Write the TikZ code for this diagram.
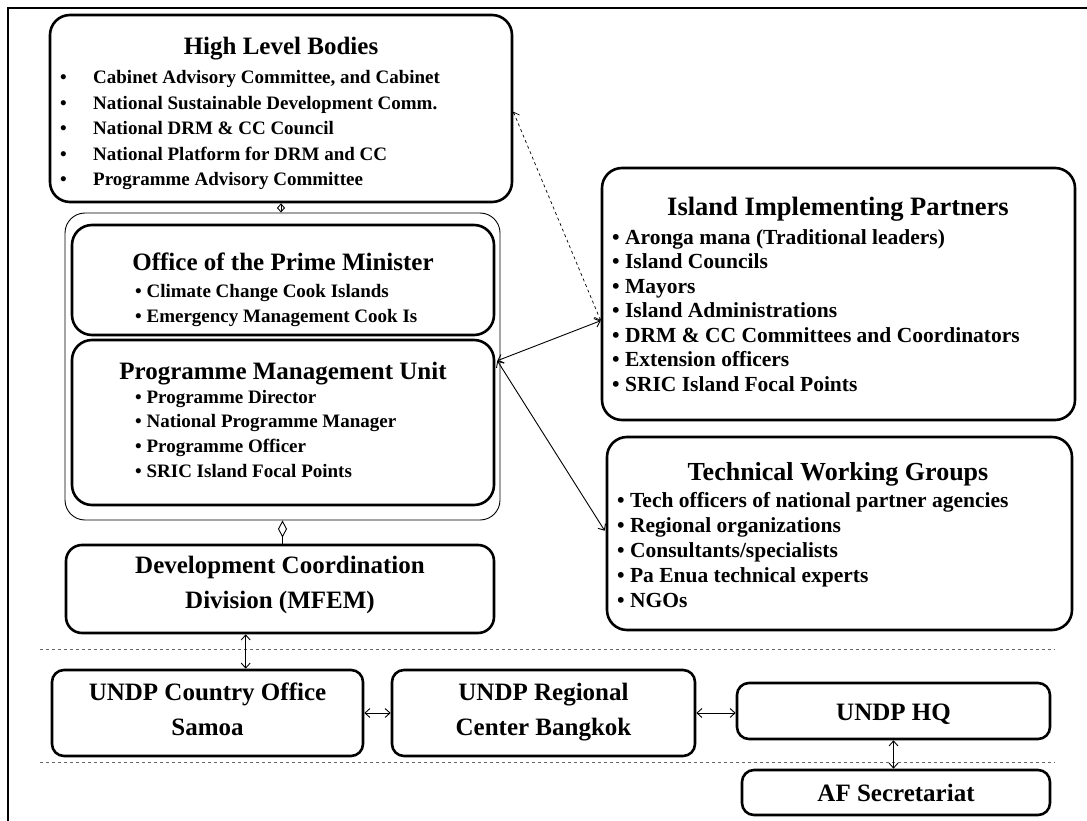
\documentclass[tikz,border=0pt]{standalone}
\usepackage{fontspec}
\setmainfont{Liberation Serif}
\usetikzlibrary{arrows.meta,calc}
\begin{document}
\begin{tikzpicture}[x=1pt,y=-1pt,
 box/.style={draw, line width=2.6pt, rounded corners=20pt, inner sep=0pt},
 sbox/.style={draw, line width=2.6pt, rounded corners=12pt, inner sep=0pt},
 thinbox/.style={draw, line width=0.9pt, rounded corners=20pt, inner sep=0pt},
 ttl/.style={font=\bfseries\fontsize{25}{30}\selectfont, inner sep=0pt, anchor=base},
 itm/.style={font=\bfseries\fontsize{19}{24}\selectfont, inner sep=0pt, anchor=base west},
 ritm/.style={font=\bfseries\fontsize{21.5}{24}\selectfont, inner sep=0pt, anchor=base west},
 dbl/.style={line width=0.9pt, {Straight Barb[length=5pt,width=9pt]}-{Straight Barb[length=5pt,width=9pt]}},
 sep/.style={draw=black!60, dashed, line width=0.7pt},
]
\useasboundingbox (0,0) rectangle (1087,821);
\draw[line width=1.4pt] (8,840) -- (8,8) -- (1100,8);

% boxes
\node[box, minimum width=462pt, minimum height=187pt] (hlb) at (281,108.5) {};
\node[thinbox, minimum width=435pt, minimum height=307pt] (cont) at (282.5,366.5) {};
\node[box, minimum width=422pt, minimum height=110pt] (opm) at (283,280) {};
\node[box, minimum width=422pt, minimum height=165pt] (pmu) at (283,422.5) {};
\node[box, rounded corners=16pt, minimum width=428pt, minimum height=88pt] (dcd) at (280,589) {};
\node[box, minimum width=473pt, minimum height=252pt] (iip) at (838.5,294) {};
\node[box, minimum width=465pt, minimum height=193pt] (twg) at (839.5,533.5) {};
\node[sbox, minimum width=311pt, minimum height=86pt] (samoa) at (207.5,713) {};
\node[sbox, minimum width=303pt, minimum height=86pt] (bkk) at (543.5,713) {};
\node[sbox, minimum width=313pt, minimum height=56pt] (hq) at (893.5,711) {};
\node[sbox, minimum width=308pt, minimum height=45pt] (af) at (896,792.5) {};

% separators
\coordinate (s1a) at (40,649); \coordinate (s1b) at (1055,649);
\coordinate (s2a) at (40,762); \coordinate (s2b) at (1055,762);
\draw[sep] (s1a) -- (s1b);
\draw[sep] (s2a) -- (s2b);

% texts: High Level Bodies
\node[ttl] (hlbt) at (281,55) {High Level Bodies};
\foreach \t [count=\i] in {Cabinet Advisory Committee{,} and Cabinet, National Sustainable Development Comm., National DRM \& CC Council, National Platform for DRM and CC, Programme Advisory Committee}{
  \node[itm] (hlbb\i) at (60,{84+25.5*(\i-1)}) {\textbullet};
  \node[itm] (hlbi\i) at (93,{84+25.5*(\i-1)}) {\t};
}
% OPM
\node[ttl] (opmt) at (283,270) {Office of the Prime Minister};
\foreach \t [count=\i] in {Climate Change Cook Islands, Emergency Management Cook Is}{
  \node[itm] (opmi\i) at (135,{297+25*(\i-1)}) {\textbullet\ \t};
}
% PMU
\node[ttl] (pmut) at (283,379) {Programme Management Unit};
\foreach \t [count=\i] in {Programme Director, National Programme Manager, Programme Officer, SRIC Island Focal Points}{
  \node[itm] (pmui\i) at (135,{403+24.7*(\i-1)}) {\textbullet\ \t};
}
% DCD
\node[ttl] (dcd1) at (280,573) {Development Coordination};
\node[ttl] (dcd2) at (280,608) {Division (MFEM)};
% IIP
\node[ttl, font=\bfseries\fontsize{26.5}{30}\selectfont] (iipt) at (838,215) {Island Implementing Partners};
\foreach \t [count=\i] in {Aronga mana (Traditional leaders), Island Councils, Mayors, Island Administrations, DRM \& CC Committees and Coordinators, Extension officers, SRIC Island Focal Points}{
  \node[ritm] (iipi\i) at (612,{244+24.5*(\i-1)}) {\textbullet\ \t};
}
% TWG
\node[ttl, font=\bfseries\fontsize{26}{30}\selectfont] (twgt) at (838,480) {Technical Working Groups};
\foreach \t [count=\i] in {Tech officers of national partner agencies, Regional organizations, Consultants/specialists, Pa Enua technical experts, NGOs}{
  \node[ritm] (twgi\i) at (617,{507+25*(\i-1)}) {\textbullet\ \t};
}
% UNDP
\node[ttl] (sam1) at (207.5,700) {UNDP Country Office};
\node[ttl] (sam2) at (207.5,735) {Samoa};
\node[ttl] (bkk1) at (543.5,700) {UNDP Regional};
\node[ttl] (bkk2) at (543.5,735) {Center Bangkok};
\node[ttl] (hqt) at (893.5,720) {UNDP HQ};
\node[ttl] (aft) at (896,801) {AF Secretariat};

% connectors
\draw[line width=0.9pt, {Straight Barb[length=4pt,width=7pt]}-{Straight Barb[length=4pt,width=7pt]}] (hlb.south) -- (hlb.south |- cont.north);
\draw[dbl, dashed, line width=0.7pt] ($(hlb.north east)+(0,98)$) -- ($(iip.north west)+(0,154)$);
\draw[dbl] ($(pmu.north east)+(2,22)$) -- ($(iip.north west)+(0,154)$);
\draw[dbl] ($(pmu.north east)+(2,22)$) -- ($(twg.north west)+(-1,95)$);
\draw[line width=0.9pt, -{Diamond[open,length=17pt,width=9pt]}] (cont.south |- dcd.north) -- (cont.south);
\draw[dbl] ($(dcd.south west)+(181,0)$) -- ($(samoa.north west)+(195,0)$);
\draw[dbl] (samoa.east) -- (bkk.west);
\draw[dbl] (bkk.east) -- (bkk.east -| hq.west);
\draw[dbl] (hq.south) -- (hq.south |- af.north);
\end{tikzpicture}
\end{document}
